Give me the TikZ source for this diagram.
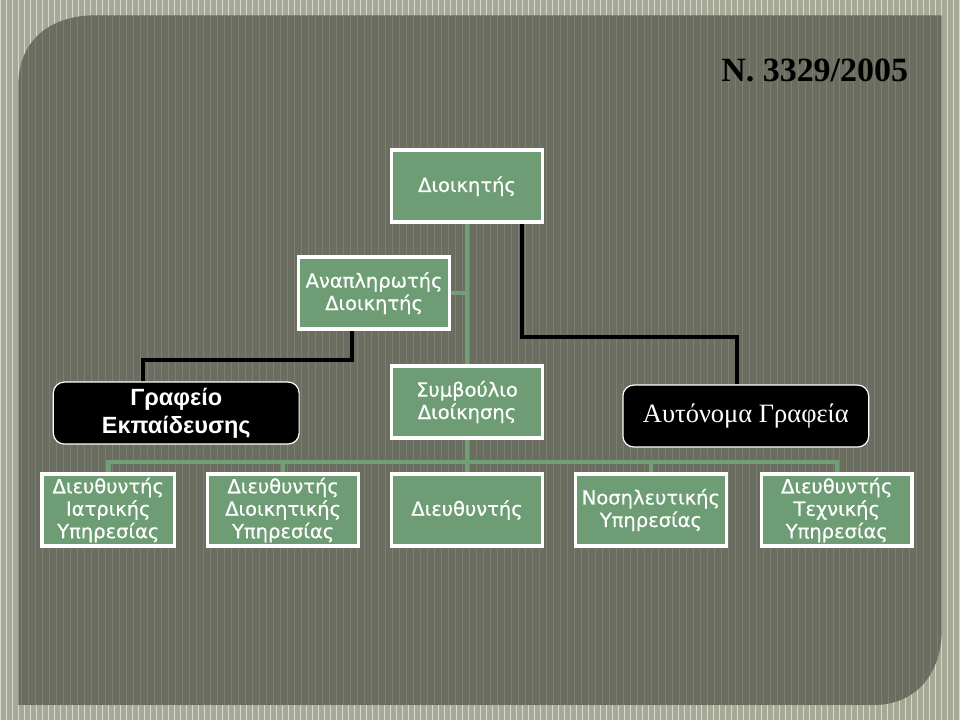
\documentclass[tikz,border=0pt]{standalone}
\usepackage{fontspec}
\setmainfont{DejaVu Sans}
\newfontfamily\postfont{DejaVu Sans}[FakeBold=0.5]
\newfontfamily\headsans{Liberation Sans}
\newfontfamily\headserif{Liberation Serif}
\definecolor{frame}{RGB}{166,169,150}
\definecolor{panel}{RGB}{106,109,95}
\definecolor{boxgreen}{RGB}{110,157,117}
\definecolor{linkgreen}{RGB}{113,160,119}
\tikzset{
  post/.style={draw=white, line width=3.5pt, fill=boxgreen, text=white, align=center,
    minimum width=151pt, minimum height=72pt, inner sep=0pt,
    font=\postfont\fontsize{19.5}{22.5}\selectfont},
  office/.style={draw=white, line width=1.2pt, fill=black, rounded corners=11pt,
    text=white, align=center, minimum width=246pt, minimum height=62pt},
  greenlink/.style={linkgreen, line width=4.5pt},
  blacklink/.style={black, line width=4pt},
}
\begin{document}
\begin{tikzpicture}[x=1pt, y=-1pt]
    % slide background
    \fill[frame] (0,0) rectangle (960,720);
    \draw[white!55!frame, line width=0.7pt] (0,0) grid[step=6] (960,720);
    \fill[panel] (18,85) .. controls (18,40) and (50,15) .. (95,15) -- (942,15)
      -- (942,630) .. controls (942,675) and (915,705) .. (875,705) -- (18,705) -- cycle;
    \begin{scope}
      \clip (18,85) .. controls (18,40) and (50,15) .. (95,15) -- (942,15)
        -- (942,630) .. controls (942,675) and (915,705) .. (875,705) -- (18,705) -- cycle;
      \draw[panel!88!white, line width=0.5pt] (18,15) grid[step=7] (942,705);
    \end{scope}
    \node[font=\headserif\bfseries\fontsize{34}{36}\selectfont, anchor=east] (title)
      at (912,70) {Ν. 3329/2005};

    % boxes
    \node[post] (boss) at (467,186) {Διοικητής};
    \node[post] (deputy) at (374,293) {Αναπληρωτής\\Διοικητής};
    \node[post] (board) at (467,402) {Συμβούλιο\\Διοίκησης};
    \node[office, font=\headsans\bfseries\fontsize{23.5}{28}\selectfont] (training)
      at (176,413) {Γραφείο\\Εκπαίδευσης};
    \node[office, font=\headserif\fontsize{26.5}{28}\selectfont] (autonomous)
      at (746,416) {Αυτόνομα Γραφεία};
    \node[post, minimum width=133pt] (medical) at (108,510) {Διευθυντής\\Ιατρικής\\Υπηρεσίας};
    \node[post] (admin) at (283,510) {Διευθυντής\\Διοικητικής\\Υπηρεσίας};
    \node[post] (director) at (467,510) {Διευθυντής};
    \node[post] (nursing) at (651,510) {Νοσηλευτικής\\Υπηρεσίας};
    \node[post] (technical) at (837,510) {Διευθυντής\\Τεχνικής\\Υπηρεσίας};

    % links
    \coordinate (bus) at (467,462);
    \draw[greenlink] (boss.south) -- (board.north);
    \draw[greenlink] (deputy.east) -- (deputy.east -| boss.south);
    \draw[greenlink] (board.south) -- (bus);
    \draw[greenlink] (medical.north) |- (bus) -| (technical.north);
    \draw[greenlink] (bus -| admin.north) -- (admin.north);
    \draw[greenlink] (bus) -- (director.north);
    \draw[greenlink] (bus -| nursing.north) -- (nursing.north);
    \draw[blacklink] ([xshift=55pt]boss.south) |- (737,337) -- (autonomous.north -| 737,0);
    \draw[blacklink] ([xshift=-22pt]deputy.south) |- (143,360) -- (training.north -| 143,0);
\end{tikzpicture}
\end{document}
